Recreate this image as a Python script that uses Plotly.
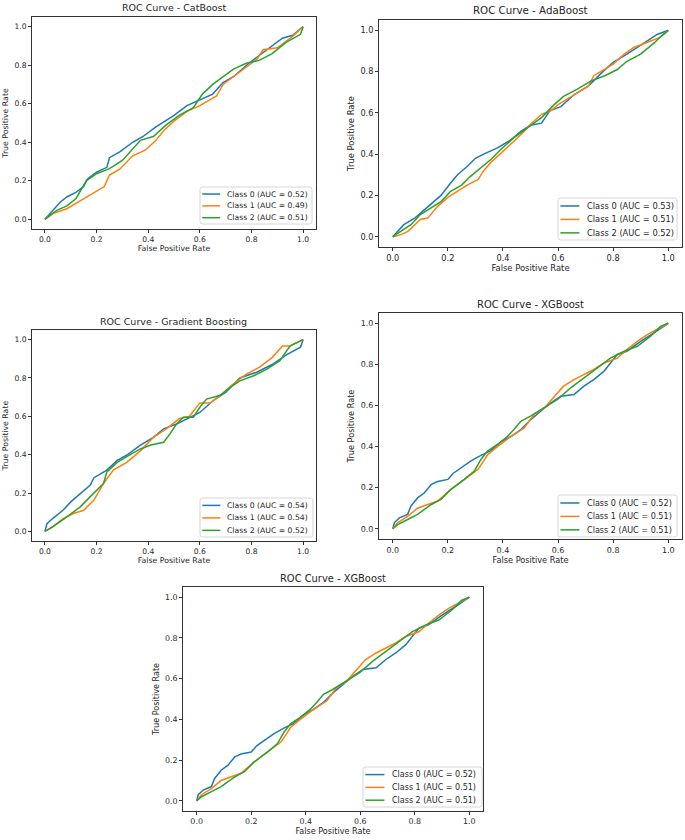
import plotly.graph_objects as go

# Data: ROC points (fpr, tpr per class)
titles = ["ROC Curve - CatBoost", "ROC Curve - AdaBoost", "ROC Curve - Gradient Boosting",
          "ROC Curve - XGBoost", "ROC Curve - XGBoost"]
class_names = ["Class 0", "Class 1", "Class 2"]
colors = ["#1f77b4", "#ff7f0e", "#2ca02c"]

cat_auc = [0.52, 0.49, 0.51]
cat_fpr0 = [0, 0.02, 0.06, 0.085, 0.12, 0.15, 0.165, 0.20, 0.24, 0.25, 0.29, 0.34, 0.38, 0.43, 0.50, 0.55, 0.60, 0.65, 0.69, 0.73, 0.79, 0.86, 0.92, 0.96, 1]
cat_tpr0 = [0, 0.03, 0.09, 0.116, 0.14, 0.17, 0.21, 0.245, 0.27, 0.32, 0.35, 0.40, 0.43, 0.48, 0.54, 0.59, 0.62, 0.65, 0.71, 0.74, 0.81, 0.88, 0.94, 0.955, 1]
cat_fpr1 = [0, 0.03, 0.085, 0.14, 0.175, 0.23, 0.25, 0.29, 0.34, 0.39, 0.43, 0.46, 0.50, 0.55, 0.60, 0.665, 0.69, 0.73, 0.78, 0.82, 0.845, 0.90, 0.96, 0.99, 1]
cat_tpr1 = [0, 0.03, 0.055, 0.10, 0.125, 0.17, 0.23, 0.26, 0.33, 0.36, 0.41, 0.46, 0.51, 0.56, 0.59, 0.64, 0.70, 0.74, 0.79, 0.83, 0.88, 0.89, 0.95, 0.99, 1]
cat_fpr2 = [0, 0.046, 0.085, 0.12, 0.16, 0.20, 0.25, 0.30, 0.37, 0.42, 0.47, 0.52, 0.575, 0.61, 0.65, 0.70, 0.73, 0.78, 0.83, 0.88, 0.935, 0.99, 1]
cat_tpr2 = [0, 0.047, 0.07, 0.107, 0.20, 0.237, 0.263, 0.306, 0.41, 0.43, 0.49, 0.54, 0.58, 0.65, 0.70, 0.75, 0.78, 0.81, 0.825, 0.86, 0.92, 0.96, 1]

ada_auc = [0.53, 0.51, 0.52]
ada_fpr0 = [0, 0.018, 0.04, 0.08, 0.115, 0.15, 0.175, 0.21, 0.235, 0.27, 0.30, 0.33, 0.38, 0.43, 0.465, 0.50, 0.54, 0.57, 0.61, 0.66, 0.71, 0.755, 0.80, 0.85, 0.90, 0.96, 1]
ada_tpr0 = [0, 0.026, 0.058, 0.09, 0.13, 0.17, 0.20, 0.26, 0.30, 0.34, 0.38, 0.40, 0.43, 0.47, 0.51, 0.54, 0.55, 0.61, 0.63, 0.69, 0.73, 0.79, 0.845, 0.885, 0.93, 0.98, 1]
ada_fpr1 = [0, 0.03, 0.055, 0.08, 0.10, 0.127, 0.163, 0.20, 0.235, 0.27, 0.31, 0.33, 0.356, 0.39, 0.43, 0.477, 0.50, 0.54, 0.574, 0.60, 0.66, 0.71, 0.73, 0.77, 0.80, 0.84, 0.875, 0.92, 0.97, 1]
ada_tpr1 = [0, 0.01, 0.026, 0.058, 0.083, 0.09, 0.147, 0.19, 0.22, 0.25, 0.277, 0.32, 0.36, 0.40, 0.45, 0.51, 0.545, 0.593, 0.61, 0.64, 0.69, 0.73, 0.78, 0.81, 0.836, 0.885, 0.917, 0.94, 0.966, 1]
ada_fpr2 = [0, 0.03, 0.066, 0.10, 0.14, 0.175, 0.21, 0.25, 0.28, 0.32, 0.356, 0.39, 0.44, 0.49, 0.54, 0.586, 0.62, 0.67, 0.72, 0.77, 0.815, 0.85, 0.90, 0.95, 0.97, 1]
ada_tpr2 = [0, 0.026, 0.058, 0.107, 0.14, 0.17, 0.22, 0.25, 0.29, 0.334, 0.374, 0.42, 0.48, 0.528, 0.577, 0.64, 0.68, 0.715, 0.755, 0.78, 0.81, 0.85, 0.885, 0.94, 0.966, 1]

gb_auc = [0.54, 0.54, 0.52]
gb_fpr0 = [0, 0.008, 0.03, 0.07, 0.10, 0.137, 0.175, 0.19, 0.24, 0.28, 0.32, 0.37, 0.42, 0.46, 0.51, 0.55, 0.60, 0.65, 0.70, 0.755, 0.82, 0.88, 0.935, 0.99, 1]
gb_tpr0 = [0, 0.04, 0.067, 0.11, 0.154, 0.197, 0.24, 0.28, 0.32, 0.37, 0.40, 0.45, 0.49, 0.535, 0.56, 0.587, 0.62, 0.68, 0.725, 0.80, 0.83, 0.87, 0.92, 0.96, 1]
gb_fpr1 = [0, 0.03, 0.07, 0.11, 0.15, 0.19, 0.227, 0.265, 0.317, 0.37, 0.42, 0.47, 0.52, 0.56, 0.60, 0.64, 0.68, 0.73, 0.78, 0.83, 0.88, 0.92, 0.95, 0.975, 1]
gb_tpr1 = [0, 0.024, 0.067, 0.093, 0.11, 0.163, 0.25, 0.32, 0.36, 0.42, 0.49, 0.535, 0.587, 0.60, 0.67, 0.67, 0.71, 0.77, 0.82, 0.855, 0.906, 0.967, 0.967, 0.985, 1]
gb_fpr2 = [0, 0.03, 0.085, 0.137, 0.175, 0.20, 0.227, 0.24, 0.28, 0.317, 0.37, 0.41, 0.46, 0.485, 0.51, 0.536, 0.575, 0.60, 0.626, 0.68, 0.716, 0.755, 0.806, 0.86, 0.91, 0.95, 0.987, 1]
gb_tpr2 = [0, 0.024, 0.076, 0.128, 0.18, 0.215, 0.25, 0.31, 0.36, 0.39, 0.43, 0.45, 0.465, 0.51, 0.56, 0.595, 0.595, 0.647, 0.69, 0.71, 0.75, 0.785, 0.81, 0.846, 0.89, 0.967, 0.993, 1]

xgb_auc = [0.52, 0.51, 0.51]
xgb_fpr0 = [0, 0.006, 0.024, 0.054, 0.066, 0.09, 0.115, 0.14, 0.163, 0.20, 0.22, 0.25, 0.284, 0.32, 0.356, 0.39, 0.43, 0.465, 0.50, 0.537, 0.574, 0.61, 0.658, 0.694, 0.73, 0.767, 0.79, 0.815, 0.85, 0.90, 0.948, 0.984, 1]
xgb_tpr0 = [0, 0.03, 0.053, 0.07, 0.11, 0.15, 0.175, 0.216, 0.23, 0.24, 0.27, 0.30, 0.33, 0.357, 0.38, 0.42, 0.45, 0.483, 0.53, 0.572, 0.613, 0.645, 0.653, 0.694, 0.726, 0.767, 0.807, 0.848, 0.864, 0.912, 0.953, 0.985, 1]
xgb_fpr1 = [0, 0.018, 0.054, 0.09, 0.127, 0.163, 0.21, 0.26, 0.31, 0.33, 0.344, 0.38, 0.43, 0.477, 0.513, 0.55, 0.586, 0.62, 0.658, 0.694, 0.73, 0.767, 0.815, 0.85, 0.888, 0.924, 0.96, 1]
xgb_tpr1 = [0, 0.03, 0.06, 0.10, 0.118, 0.135, 0.19, 0.24, 0.29, 0.33, 0.36, 0.40, 0.45, 0.49, 0.556, 0.588, 0.645, 0.694, 0.726, 0.75, 0.775, 0.807, 0.83, 0.872, 0.912, 0.945, 0.97, 1]
xgb_fpr2 = [0, 0.018, 0.054, 0.09, 0.115, 0.14, 0.175, 0.21, 0.26, 0.296, 0.32, 0.344, 0.38, 0.417, 0.44, 0.465, 0.50, 0.55, 0.598, 0.646, 0.694, 0.743, 0.79, 0.84, 0.888, 0.936, 0.972, 1]
xgb_tpr2 = [0, 0.02, 0.045, 0.07, 0.094, 0.118, 0.143, 0.19, 0.24, 0.28, 0.337, 0.378, 0.41, 0.45, 0.483, 0.523, 0.548, 0.588, 0.63, 0.686, 0.734, 0.783, 0.83, 0.864, 0.888, 0.937, 0.985, 1]

panels = [
    (cat_auc, [(cat_fpr0, cat_tpr0), (cat_fpr1, cat_tpr1), (cat_fpr2, cat_tpr2)]),
    (ada_auc, [(ada_fpr0, ada_tpr0), (ada_fpr1, ada_tpr1), (ada_fpr2, ada_tpr2)]),
    (gb_auc, [(gb_fpr0, gb_tpr0), (gb_fpr1, gb_tpr1), (gb_fpr2, gb_tpr2)]),
    (xgb_auc, [(xgb_fpr0, xgb_tpr0), (xgb_fpr1, xgb_tpr1), (xgb_fpr2, xgb_tpr2)]),
    (xgb_auc, [(xgb_fpr0, xgb_tpr0), (xgb_fpr1, xgb_tpr1), (xgb_fpr2, xgb_tpr2)]),
]

# layout in pixels on the 685x840 page
W, H = 685, 840
boxes = [(32, 316, 17, 229), (379, 682, 20, 247), (32, 316, 330, 541),
         (379, 682, 313, 539), (183, 483, 587, 811)]          # left, right, top, bottom
title_y = [8, 10, 321, 304, 578]
legend_boxes = [(200, 187, 312, 224), (558, 198, 677, 240), (200, 498, 313, 537),
                (558, 495, 677, 537), (363, 767, 482, 807)]   # left, top, right, bottom
scale = [1.0, 1.08, 1.0, 1.05, 1.04]

font = "DejaVu Sans"
ink = "#262626"
fig = go.Figure()
layout = dict(width=W, height=H, margin=dict(l=0, r=0, t=0, b=0),
              paper_bgcolor="white", plot_bgcolor="white", showlegend=False,
              font=dict(family=font, size=8, color=ink))
annotations = []
shapes = []


def rounded_box(l, t, r, b, rad=2.5):
    x0, x1 = l / W, r / W
    y0, y1 = 1 - b / H, 1 - t / H
    rx, ry = rad / W, rad / H
    return (f"M {x0 + rx},{y1} L {x1 - rx},{y1} Q {x1},{y1} {x1},{y1 - ry} "
            f"L {x1},{y0 + ry} Q {x1},{y0} {x1 - rx},{y0} L {x0 + rx},{y0} "
            f"Q {x0},{y0} {x0},{y0 + ry} L {x0},{y1 - ry} Q {x0},{y1} {x0 + rx},{y1} Z")


for i, (aucs, curves) in enumerate(panels):
    n = "" if i == 0 else str(i + 1)
    s = scale[i]
    labels = [f"{class_names[k]} (AUC = {aucs[k]:.2f})" for k in range(3)]
    for k, (fpr, tpr) in enumerate(curves):
        fig.add_trace(go.Scatter(
            x=fpr, y=tpr, mode="lines", xaxis="x" + n, yaxis="y" + n,
            line=dict(color=colors[k], width=1.5), name=labels[k]))
    l, r, t, b = boxes[i]
    axis_common = dict(range=[-0.05, 1.05], showgrid=False, zeroline=False,
                       showline=True, linecolor="#333333", linewidth=0.9, mirror=True,
                       ticks="outside", ticklen=3, tickwidth=0.9, tickcolor="#333333",
                       tickvals=[0, 0.2, 0.4, 0.6, 0.8, 1.0], tickformat=".1f",
                       tickfont=dict(family=font, size=7.6 * s, color=ink))
    layout["xaxis" + n] = dict(axis_common, domain=[l / W, r / W], anchor="y" + n,
                               title=dict(text="False Positive Rate", standoff=1,
                                          font=dict(family=font, size=7.8 * s, color=ink)))
    layout["yaxis" + n] = dict(axis_common, domain=[1 - b / H, 1 - t / H], anchor="x" + n,
                               title=dict(text="True Positive Rate", standoff=4,
                                          font=dict(family=font, size=7.8 * s, color=ink)))
    annotations.append(dict(text=titles[i], x=(l + r) / 2 / W, y=1 - title_y[i] / H,
                            xref="paper", yref="paper", xanchor="center", yanchor="middle",
                            showarrow=False, font=dict(family=font, size=9.5 * s, color=ink)))

    # legend box drawn in the lower right corner of the axes
    ll, lt, lr, lb = legend_boxes[i]
    lw, lh = lr - ll, lb - lt
    shapes.append(dict(type="path", xref="paper", yref="paper", path=rounded_box(ll, lt, lr, lb),
                       line=dict(color="#cccccc", width=0.8), fillcolor="rgba(255,255,255,0.85)"))
    for k in range(3):
        yc = 1 - (lt + lh * (0.19 + 0.32 * k)) / H
        shapes.append(dict(type="line", xref="paper", yref="paper",
                           x0=(ll + 0.02 * lw) / W, x1=(ll + 0.18 * lw) / W, y0=yc, y1=yc,
                           line=dict(color=colors[k], width=1.5)))
        annotations.append(dict(text=labels[k], x=(ll + 0.225 * lw) / W, y=yc,
                                xref="paper", yref="paper", xanchor="left", yanchor="middle",
                                showarrow=False, font=dict(family=font, size=7.7 * s, color=ink)))

layout["annotations"] = annotations
layout["shapes"] = shapes
fig.update_layout(**layout)

fig.write_html("out.html", config={"displayModeBar": False},
               post_script="document.body.style.margin='0';document.body.style.overflow='hidden';")
